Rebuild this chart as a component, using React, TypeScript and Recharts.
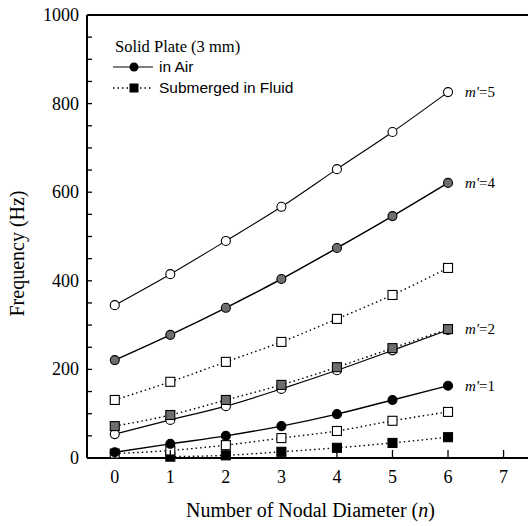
import React from "react";
import { LineChart, Line, XAxis, YAxis, ReferenceLine, LabelList, Label } from "recharts";

// number of nodal diameters n
const nodalDiameters = [0, 1, 2, 3, 4, 5, 6];

// in air (solid lines)
const airM5 = [345, 415, 490, 567, 652, 736, 826];
const airM4 = [221, 278, 339, 404, 474, 546, 621];
const airM2 = [54, 86, 117, 156, 198, 243, 289];
const airM1 = [13, 32, 50, 72, 99, 131, 163];

// submerged in fluid (dotted lines)
const fluidM5 = [131, 172, 217, 262, 314, 368, 429];
const fluidM4 = [72, 97, 131, 165, 205, 248, 291];
const fluidM2 = [10, 17, 29, 45, 61, 84, 104];
const fluidM1 = [null, 3, 6, 14, 23, 34, 47];

const xTicks = [0, 1, 2, 3, 4, 5, 6, 7];
const yTicks = [0, 50, 100, 150, 200, 250, 300, 350, 400, 450, 500, 550, 600, 650, 700, 750, 800, 850, 900, 950, 1000];
const yLabelEvery = 200;

const data = nodalDiameters.map((n, i) => ({
  n,
  airM5: airM5[i],
  airM4: airM4[i],
  airM2: airM2[i],
  airM1: airM1[i],
  fluidM5: fluidM5[i],
  fluidM4: fluidM4[i],
  fluidM2: fluidM2[i],
  fluidM1: fluidM1[i],
}));

type Shape = "circle" | "square";
const GRAY = "#6e6e6e";

const series: { key: string; shape: Shape; fill: string; dotted: boolean; width: number; label?: string }[] = [
  { key: "fluidM1", shape: "square", fill: "#000", dotted: true, width: 1.4 },
  { key: "fluidM2", shape: "square", fill: "#fff", dotted: true, width: 1.4 },
  { key: "fluidM5", shape: "square", fill: "#fff", dotted: true, width: 1.4 },
  { key: "airM2", shape: "circle", fill: "#fff", dotted: false, width: 1.2 },
  { key: "fluidM4", shape: "square", fill: GRAY, dotted: true, width: 1.4, label: "2" },
  { key: "airM1", shape: "circle", fill: "#000", dotted: false, width: 1.4, label: "1" },
  { key: "airM4", shape: "circle", fill: GRAY, dotted: false, width: 1.5, label: "4" },
  { key: "airM5", shape: "circle", fill: "#fff", dotted: false, width: 1.1, label: "5" },
];

const serif = "'Liberation Serif', 'Times New Roman', serif";
const sans = "'Liberation Sans', Arial, sans-serif";

function Marker({ cx, cy, shape, fill }: { cx: number; cy: number; shape: Shape; fill: string }) {
  if (cx == null || cy == null) return null;
  if (shape === "circle") {
    return <circle cx={cx} cy={cy} r={4.5} fill={fill} stroke="#000" strokeWidth={1.1} />;
  }
  return <rect x={cx - 4.5} y={cy - 4.5} width={9} height={9} fill={fill} stroke="#000" strokeWidth={1.1} />;
}

const YTick = (props: any) => {
  const { x, y, payload } = props;
  const major = payload.value % yLabelEvery === 0;
  return (
    <g>
      <line x1={x} x2={x + 5} y1={y} y2={y} stroke="#000" strokeWidth={1.3} />
      {major && (
        <text x={x - 8} y={y} dy={6} textAnchor="end" fontSize={18} fontFamily={serif} fill="#000">
          {payload.value}
        </text>
      )}
    </g>
  );
};

const XTick = (props: any) => {
  const { x, y, payload } = props;
  return (
    <g>
      <line x1={x} x2={x} y1={y} y2={y - 8} stroke="#000" strokeWidth={1.3} />
      <text x={x} y={y + 25} textAnchor="middle" fontSize={18} fontFamily={serif} fill="#000">
        {payload.value}
      </text>
    </g>
  );
};

function LegendBox() {
  return (
    <svg width={210} height={70} style={{ position: "absolute", left: 108, top: 34 }}>
      <text x={7} y={18} fontSize={16.5} fontFamily={serif}>Solid Plate (3 mm)</text>
      <line x1={5} x2={45} y1={33} y2={33} stroke="#000" strokeWidth={1.2} />
      <circle cx={26} cy={33} r={4.5} fill="#000" />
      <text x={51} y={38} fontSize={15.5} fontFamily={sans}>in Air</text>
      <line x1={5} x2={45} y1={54} y2={54} stroke="#000" strokeWidth={1.4} strokeDasharray="1.5 3" />
      <rect x={21.5} y={49.5} width={9} height={9} fill="#000" />
      <text x={51} y={59} fontSize={15.5} fontFamily={sans}>Submerged in Fluid</text>
    </svg>
  );
}

export default function App() {
  return (
    <div style={{ position: "absolute", left: 0, top: 0, width: 529, height: 526, background: "#fff" }}>
      <LineChart width={529} height={526} data={data} margin={{ top: 15, right: 1, left: 0, bottom: 0 }}>
        <XAxis
          dataKey="n"
          type="number"
          domain={[-0.5, 7.44]}
          ticks={xTicks}
          height={68}
          tickSize={0}
          tickMargin={0}
          tick={<XTick />}
          axisLine={{ stroke: "#000", strokeWidth: 2 }}
          interval={0}
        >
          <Label
            content={(p: any) => {
              const vb = p.viewBox;
              return (
                <text x={vb.x + vb.width / 2 + 3} y={vb.y + 59} textAnchor="middle" fontSize={20} fontFamily={serif}>
                  Number of Nodal Diameter (<tspan fontStyle="italic">n</tspan>)
                </text>
              );
            }}
          />
        </XAxis>
        <YAxis
          type="number"
          domain={[0, 1000]}
          ticks={yTicks}
          width={87}
          tickSize={0}
          tickMargin={0}
          tick={<YTick />}
          axisLine={{ stroke: "#000", strokeWidth: 2 }}
          interval={0}
        >
          <Label
            content={(p: any) => {
              const vb = p.viewBox;
              const cx = vb.x + 17;
              const cy = vb.y + vb.height / 2 + 17;
              return (
                <text x={cx} y={cy} textAnchor="middle" fontSize={20} fontFamily={serif} transform={`rotate(-90 ${cx} ${cy})`} dy={7}>
                  Frequency (Hz)
                </text>
              );
            }}
          />
        </YAxis>
        <ReferenceLine y={1000} stroke="#000" strokeWidth={2} />
        {series.map((s) => (
          <Line
            key={s.key}
            dataKey={s.key}
            type="monotone"
            stroke="#000"
            strokeWidth={s.width}
            strokeDasharray={s.dotted ? "1.5 3" : undefined}
            isAnimationActive={false}
            connectNulls
            dot={(p: any) => <Marker key={`${s.key}-${p.index}`} cx={p.cx} cy={p.cy} shape={s.shape} fill={s.fill} />}
            activeDot={false}
          >
            {s.label && (
              <LabelList
                dataKey={s.key}
                content={(p: any) =>
                  p.index === nodalDiameters.length - 1 ? (
                    <text x={p.x + 17} y={p.y} dy={5} fontSize={15} fontFamily={serif}>
                      <tspan fontStyle="italic">m'</tspan>={s.label}
                    </text>
                  ) : null
                }
              />
            )}
          </Line>
        ))}
      </LineChart>
      <LegendBox />
    </div>
  );
}
